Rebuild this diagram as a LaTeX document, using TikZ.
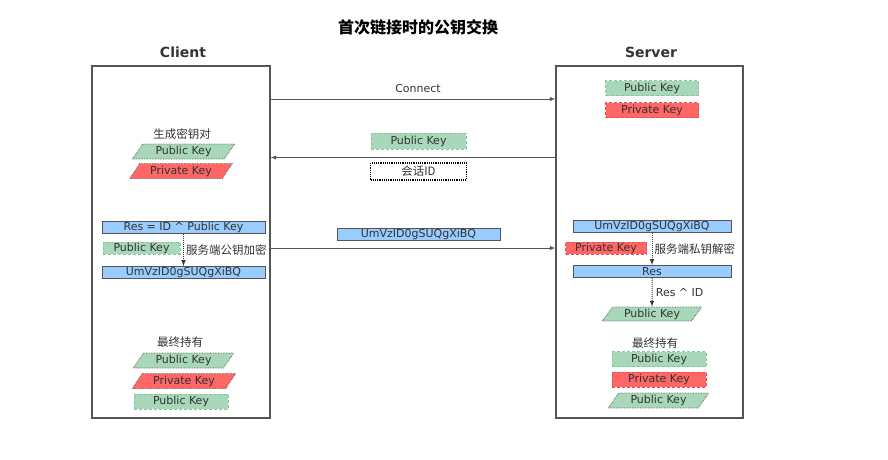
\documentclass[tikz,border=0pt]{standalone}
\usepackage{fontspec}
\setmainfont{DejaVu Sans}
\newfontfamily\cjk{Noto Sans CJK SC}
\usetikzlibrary{arrows,
	shapes.geometric,
	positioning}

\definecolor{keygreen}{HTML}{A8D8B9}
\definecolor{keygreenline}{HTML}{86C79F}
\definecolor{keyred}{HTML}{FF6666}
\definecolor{keyredline}{HTML}{E65050}
\definecolor{msgblue}{HTML}{99CCFF}
\definecolor{linegray}{HTML}{555555}
\definecolor{txtgray}{HTML}{333333}

\tikzset{
	side/.style={draw=linegray, line width=1.3pt, minimum width=178, minimum height=352},
	hdr/.style={font=\bfseries\fontsize{14}{16}\selectfont, text=txtgray},
	plain/.style={font=\fontsize{11}{13}\selectfont, text=txtgray},
	cjklbl/.style={font=\cjk\fontsize{11.5}{13}\selectfont, text=txtgray, inner sep=2pt},
	keybox/.style={plain, inner xsep=1pt, inner ysep=0.5pt, minimum height=15, densely dashed, line width=0.6pt},
	pubkey/.style={keybox, fill=keygreen, draw=keygreenline},
	privkey/.style={keybox, fill=keyred, draw=keyredline},
	slanted/.style={trapezium, trapezium left angle=57, trapezium right angle=123, trapezium stretches=true,
		draw=black!65, densely dotted, line width=0.8pt},
	cipher/.style={plain, fill=msgblue, draw=linegray, line width=1pt, minimum height=12, inner xsep=1pt, inner ysep=0.3pt},
	msg/.style={draw=linegray, line width=0.9pt, -latex},
	flow/.style={draw=black!80, densely dotted, line width=1pt, -latex}
}

\begin{document}
\begin{tikzpicture}[x=1pt, y=-1pt]
	\useasboundingbox (0,0) rectangle (888,459);
	\node[font=\cjk\bfseries\fontsize{16}{18}\selectfont, text=black] (title) at (418,27) {首次链接时的公钥交换};
	\node[hdr] (clientlbl) at (183,52) {Client};
	\node[hdr] (serverlbl) at (651,52) {Server};
	\node[side] (client) at (181,242) {};
	\node[side, minimum width=187] (server) at (649.5,242) {};

	% connect
	\node[plain] (connlbl) at (418,88) {Connect};
	\coordinate (row1) at (418,99);
	\draw[msg] (client.east |- row1) -- (server.west |- row1);
	\node[pubkey, minimum width=93] (srvpub) at (652,88) {Public Key};
	\node[privkey, minimum width=93] (srvpriv) at (652,110) {Private Key};

	% key pair + session id
	\node[cjklbl] (genlbl) at (182,134) {生成密钥对};
	\node[pubkey, slanted, minimum width=103] (clipub) at (183.5,151.5) {Public Key};
	\node[privkey, slanted, minimum width=103] (clipriv) at (181,171) {Private Key};
	\coordinate (row2) at (418,157.5);
	\draw[msg] (server.west |- row2) -- (client.east |- row2);
	\node[pubkey, minimum width=95, minimum height=16] (sentpub) at (418.5,141) {Public Key};
	\node[cjklbl, draw=black, densely dotted, line width=1.2pt, minimum width=96, minimum height=17] (sessid) at (418.5,171.5) {会话ID};

	% client encrypts
	\node[cipher, minimum width=163] (clires) at (183.5,227) {Res = ID \textasciicircum{} Public Key};
	\node[cipher, minimum width=163] (clienc) at (183.5,272.5) {UmVzID0gSUQgXiBQ};
	\draw[flow] (clires) -- node[cjklbl, right] {服务端公钥加密} (clienc);
	\node[pubkey, minimum width=77, minimum height=11] (encpub) at (141.5,248) {Public Key};
	\coordinate (row3) at (418,248);
	\draw[msg] (client.east |- row3) -- (server.west |- row3);
	\node[cipher, minimum width=163] (sentcipher) at (418.5,234.5) {UmVzID0gSUQgXiBQ};

	% server decrypts
	\node[cipher, minimum width=158] (srvcipher) at (652,226.5) {UmVzID0gSUQgXiBQ};
	\node[cipher, minimum width=158] (srvres) at (652,271.5) {Res};
	\draw[flow] (srvcipher) -- node[cjklbl, right] {服务端私钥解密} (srvres);
	\node[privkey, minimum width=81, minimum height=12] (decpriv) at (606,248) {Private Key};
	\node[pubkey, slanted, minimum width=100, minimum height=14] (srvgot) at (652,314) {Public Key};
	\draw[flow] (srvres) -- node[plain, right] {Res \textasciicircum{} ID} (srvgot);

	% final
	\node[cjklbl] (clifinal) at (180,342) {最终持有};
	\node[pubkey, slanted, minimum width=101] (cliend1) at (183.5,360.5) {Public Key};
	\node[privkey, slanted, minimum width=104] (cliend2) at (184,381) {Private Key};
	\node[pubkey, minimum width=94] (cliend3) at (181,401.5) {Public Key};
	\node[cjklbl] (srvfinal) at (655,343) {最终持有};
	\node[pubkey, minimum width=94] (srvend1) at (659,359) {Public Key};
	\node[privkey, minimum width=94] (srvend2) at (659,379.5) {Private Key};
	\node[pubkey, slanted, minimum width=101] (srvend3) at (658.5,400.5) {Public Key};
\end{tikzpicture}
\end{document}
